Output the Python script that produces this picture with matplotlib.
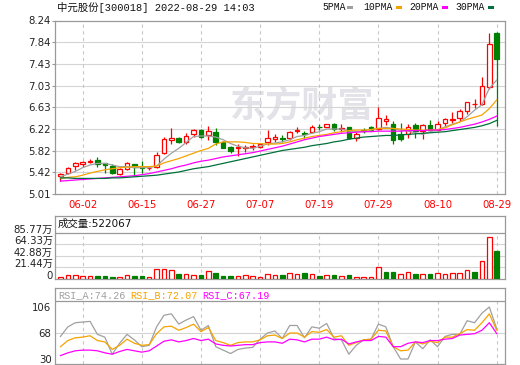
import numpy as np
import matplotlib
matplotlib.use('Agg')
import matplotlib.pyplot as plt
from matplotlib.patches import Rectangle

plt.rcParams['font.family'] = ['DejaVu Sans', 'Noto Sans CJK SC']

# Header info
stock_title = '中元股份[300018] 2022-08-29 14:03'
ma_names = ['5PMA', '10PMA', '20PMA', '30PMA']

# x-axis date labels, one every 8 candles
date_labels = ['06-02', '06-15', '06-27', '07-07', '07-19', '07-29', '08-10', '08-29']
date_label_idx = [3, 11, 19, 27, 35, 43, 51, 59]

# Daily candles
opens = [5.35, 5.41, 5.54, 5.57, 5.61, 5.64, 5.58, 5.54, 5.38, 5.48,
         5.57, 5.51, 5.49, 5.52, 5.77, 6.02, 6.06, 5.98, 6.12, 6.20,
         6.10, 6.17, 5.98, 5.89, 5.86, 5.86, 5.88, 5.88, 5.97, 6.04,
         6.05, 6.05, 6.19, 6.15, 6.16, 6.26, 6.26, 6.31, 6.22, 6.25,
         6.05, 6.20, 6.25, 6.22, 6.37, 6.32, 6.12, 6.12, 6.29, 6.18,
         6.30, 6.21, 6.33, 6.39, 6.42, 6.56, 6.68, 6.68, 7.01, 8.01]
highs = [5.40, 5.52, 5.60, 5.62, 5.66, 5.70, 5.59, 5.57, 5.49, 5.61,
         5.57, 5.62, 5.53, 5.80, 6.08, 6.23, 6.08, 6.15, 6.22, 6.22,
         6.28, 6.23, 5.99, 5.90, 5.95, 5.92, 5.94, 5.96, 6.20, 6.13,
         6.11, 6.19, 6.26, 6.18, 6.30, 6.31, 6.32, 6.33, 6.31, 6.26,
         6.16, 6.23, 6.27, 6.63, 6.48, 6.36, 6.33, 6.32, 6.33, 6.31,
         6.39, 6.36, 6.43, 6.53, 6.59, 6.73, 6.78, 7.18, 8.01, 8.02]
lows = [5.25, 5.38, 5.46, 5.52, 5.58, 5.52, 5.41, 5.39, 5.37, 5.45,
        5.35, 5.40, 5.46, 5.49, 5.76, 5.94, 5.96, 5.94, 6.07, 6.05,
        6.02, 5.92, 5.86, 5.77, 5.71, 5.79, 5.83, 5.86, 5.92, 5.98,
        5.98, 6.02, 6.14, 6.05, 6.14, 6.20, 6.25, 6.18, 6.17, 6.04,
        5.99, 6.15, 6.18, 6.20, 6.30, 5.95, 5.99, 6.05, 6.05, 6.03,
        6.18, 6.20, 6.25, 6.33, 6.36, 6.50, 6.62, 6.66, 6.97, 6.28]
closes = [5.38, 5.49, 5.59, 5.61, 5.62, 5.57, 5.55, 5.40, 5.48, 5.58,
          5.52, 5.49, 5.50, 5.74, 6.03, 6.05, 5.97, 6.09, 6.20, 6.08,
          6.19, 5.98, 5.87, 5.81, 5.88, 5.89, 5.90, 5.94, 6.05, 6.08,
          6.03, 6.16, 6.21, 6.13, 6.26, 6.25, 6.31, 6.22, 6.24, 6.06,
          6.13, 6.18, 6.21, 6.42, 6.41, 6.01, 6.03, 6.25, 6.18, 6.29,
          6.20, 6.31, 6.40, 6.41, 6.56, 6.72, 6.69, 7.02, 7.80, 7.53]

# Moving averages
ma5 = [5.33, 5.38, 5.43, 5.50, 5.55, 5.58, 5.58, 5.55, 5.52, 5.52,
       5.50, 5.50, 5.50, 5.53, 5.66, 5.77, 5.86, 5.97, 6.08, 6.09,
       6.09, 6.07, 6.02, 5.95, 5.90, 5.87, 5.86, 5.90, 5.94, 5.96,
       5.98, 6.02, 6.08, 6.10, 6.14, 6.17, 6.22, 6.22, 6.22, 6.18,
       6.17, 6.17, 6.20, 6.23, 6.25, 6.23, 6.20, 6.18, 6.15, 6.12,
       6.17, 6.20, 6.26, 6.31, 6.35, 6.45, 6.57, 6.67, 6.98, 7.13]
ma10 = [5.30, 5.32, 5.33, 5.36, 5.40, 5.43, 5.46, 5.48, 5.50, 5.51,
        5.52, 5.52, 5.52, 5.53, 5.59, 5.63, 5.67, 5.72, 5.77, 5.82,
        5.86, 5.94, 5.98, 5.98, 5.98, 5.97, 5.95, 5.95, 5.94, 5.94,
        5.95, 5.98, 6.02, 6.05, 6.08, 6.10, 6.12, 6.15, 6.17, 6.19,
        6.20, 6.20, 6.21, 6.23, 6.23, 6.23, 6.22, 6.21, 6.20, 6.20,
        6.20, 6.21, 6.24, 6.30, 6.35, 6.40, 6.44, 6.48, 6.60, 6.76]
ma20 = [5.25, 5.26, 5.27, 5.28, 5.29, 5.30, 5.31, 5.32, 5.33, 5.34,
        5.35, 5.37, 5.39, 5.42, 5.45, 5.48, 5.52, 5.55, 5.59, 5.62,
        5.64, 5.67, 5.70, 5.72, 5.74, 5.76, 5.78, 5.81, 5.84, 5.87,
        5.90, 5.94, 5.98, 6.02, 6.05, 6.08, 6.10, 6.12, 6.14, 6.15,
        6.16, 6.17, 6.17, 6.18, 6.18, 6.18, 6.18, 6.19, 6.19, 6.19,
        6.20, 6.20, 6.21, 6.23, 6.25, 6.28, 6.31, 6.35, 6.40, 6.46]
ma30 = [5.31, 5.31, 5.30, 5.30, 5.30, 5.30, 5.30, 5.31, 5.31, 5.32,
        5.33, 5.34, 5.35, 5.36, 5.38, 5.40, 5.42, 5.45, 5.48, 5.50,
        5.52, 5.55, 5.58, 5.61, 5.64, 5.67, 5.70, 5.73, 5.76, 5.79,
        5.82, 5.84, 5.86, 5.88, 5.91, 5.93, 5.95, 5.98, 6.00, 6.03,
        6.05, 6.07, 6.08, 6.09, 6.10, 6.10, 6.11, 6.12, 6.13, 6.14,
        6.15, 6.16, 6.17, 6.19, 6.21, 6.23, 6.25, 6.28, 6.32, 6.38]

# Volume in units of 10k (万)
volume = [3.7, 6.8, 6.8, 4.9, 4.9, 5.5, 5.5, 3.7, 3.7, 6.8,
          5.5, 5.5, 3.7, 17.9, 17.9, 16.6, 9.2, 8.6, 6.8, 7.4,
          14.8, 11.7, 5.5, 5.5, 4.9, 6.8, 5.5, 4.3, 8.6, 6.8,
          7.4, 10.5, 8.6, 11.1, 8.6, 5.5, 6.8, 7.4, 4.9, 7.4,
          2.8, 2.8, 2.8, 21.6, 12.9, 12.9, 8.6, 12.3, 9.2, 8.6,
          9.2, 10.5, 8.6, 10.5, 10.5, 17.3, 12.9, 32.7, 77.0, 52.2067]
vol_ticks = [0, 21.44, 42.88, 64.33, 85.77]
vol_tick_labels = ['0', '21.44万', '42.88万', '64.33万', '85.77万']

# RSI lines
rsi_a = [63, 77, 83, 84, 85, 66, 62, 37, 53, 66,
         58, 48, 50, 77, 94, 96, 81, 87, 92, 72,
         79, 48, 43, 38, 44, 46, 47, 59, 68, 71,
         60, 79, 79, 61, 77, 75, 82, 60, 58, 37,
         50, 58, 59, 81, 77, 48, 30, 30, 55, 45,
         58, 48, 63, 66, 66, 86, 83, 97, 106, 74.26]
rsi_b = [48, 57, 61, 62, 64, 57, 55, 44, 50, 59,
         53, 50, 51, 67, 77, 78, 72, 76, 81, 70,
         76, 57, 54, 50, 54, 55, 55, 58, 64, 65,
         60, 68, 68, 62, 70, 69, 73, 62, 64, 50,
         54, 58, 59, 72, 71, 48, 42, 43, 55, 52,
         56, 54, 62, 62, 67, 73, 72, 83, 96, 72.07]
rsi_c = [35, 39, 42, 43, 43, 42, 39, 37, 41, 44,
         42, 40, 42, 49, 56, 58, 55, 57, 60, 57,
         59, 52, 50, 49, 50, 51, 51, 54, 55, 55,
         53, 59, 58, 55, 59, 59, 62, 58, 59, 52,
         55, 57, 57, 63, 62, 48, 48, 53, 55, 54,
         57, 57, 59, 60, 65, 66, 67, 72, 83, 67.19]
price_tick_labels = ['5.01', '5.42', '5.82', '6.22', '6.63', '7.03', '7.43', '7.84', '8.24']
rsi_ticks = [30, 68, 106]

# Colours
RED = '#ff0000'
GREEN = '#008000'
FRAME = '#999999'
GRID = '#d4d4d4'
ma_colors = ['#a0a0a0', '#f5a300', '#ff00ff', '#00703c']
rsi_colors = ['#a0a0a0', '#f5a300', '#ff00ff']

W, H = 520, 365
fig = plt.figure(figsize=(W / 100, H / 100), dpi=100)


def add_px_axes(x0, y0, x1, y1):
    # axes placed by pixel box (top-left origin)
    return fig.add_axes([x0 / W, 1 - y1 / H, (x1 - x0) / W, (y1 - y0) / H])


def style_frame(ax):
    for sp in ax.spines.values():
        sp.set_color(FRAME)
        sp.set_linewidth(0.9)
    ax.set_xlim(-0.74, 60.12)
    ax.set_xticks([])


def dashed_vlines(ax, ymin, ymax):
    ax.vlines(date_label_idx, ymin, ymax, colors='#c8c8c8', linestyles=(0, (3, 3)), lw=0.8, zorder=1)


x = np.arange(len(closes))
o = np.array(opens)
c = np.array(closes)
candle_up = c >= o

# ---------------- Price panel ----------------
ax = add_px_axes(55, 20.5, 505, 194)
style_frame(ax)
price_ticks = np.linspace(5.01, 8.24, 9)
ax.set_ylim(5.01, 8.24)
ax.set_yticks(price_ticks)
ax.set_yticklabels(price_tick_labels, fontsize=7.3, color='#222222')
ax.tick_params(axis='y', length=2.2, width=0.8, color=FRAME, pad=0.8)
for yv in price_ticks[1:-1]:
    ax.axhline(yv, color=GRID, lw=0.8, zorder=1)
dashed_vlines(ax, 5.01, 8.24)

# watermark
ax.text(0.55, 0.505, '东方财富', transform=ax.transAxes, fontsize=26, fontweight='bold',
        color='#e2e2e8', ha='center', va='center', family=['Noto Sans CJK SC'], zorder=0)

cols = [RED if u else GREEN for u in candle_up]
ax.vlines(x, lows, highs, colors=cols, lw=0.9, zorder=3)
body_bottom = np.minimum(o, c)
body_height = np.maximum(np.abs(c - o), 0.004)
ax.bar(x, body_height, bottom=body_bottom, width=0.62,
       facecolor=['white' if u else GREEN for u in candle_up],
       edgecolor=cols, lw=0.9, zorder=4)

for ma, col in zip([ma5, ma10, ma20, ma30], ma_colors):
    ax.plot(x, ma, color=col, lw=0.9, zorder=5)

# x labels under price panel
for idx, lab in zip(date_label_idx, date_labels):
    ax.text(idx, -0.065, lab, transform=ax.get_xaxis_transform(), color=RED,
            fontsize=7.3, ha='center', va='center')

# title + MA legend
fig.text(57 / W, 1 - 7.5 / H, stock_title, fontsize=7.5, va='center', ha='left',
         family=['Liberation Mono', 'Noto Sans CJK SC'], color='#111111')
legend_x = [322, 363, 409, 455]
square_x = [347.3, 395.7, 442, 487.7]
for name, lx, sx, col in zip(ma_names, legend_x, square_x, ma_colors):
    fig.text(lx / W, 1 - 7.5 / H, name, fontsize=7.0, va='center', ha='left',
             family=['Liberation Mono'], color='#111111')
    fig.add_artist(Rectangle((sx / W, 1 - 9 / H), 6 / W, 3 / H, transform=fig.transFigure,
                             facecolor=col, edgecolor='none'))

# ---------------- Volume panel ----------------
vax = add_px_axes(55, 216, 505, 279)
style_frame(vax)
vol_top = vol_ticks[-1]
vax.set_ylim(0, vol_top * 63 / 46.4)
vax.axhline(vol_top, color=FRAME, lw=0.9, zorder=2)
for yv in vol_ticks[1:-1]:
    vax.axhline(yv, color=GRID, lw=0.8, zorder=1)
dashed_vlines(vax, 0, vol_top)
vax.set_yticks(vol_ticks)
vax.set_yticklabels(vol_tick_labels, fontsize=7.3, color='#222222')
for lab in vax.get_yticklabels():
    lab.set_verticalalignment('baseline')
vax.tick_params(axis='y', length=0, pad=1.5)

# volume colour follows the change vs previous close
prev_close = np.concatenate([[c[0] - 0.01], c[:-1]])
vol_up = c >= prev_close
vcols = [RED if u else GREEN for u in vol_up]
vax.bar(x, volume, width=0.62, facecolor=['white' if u else GREEN for u in vol_up],
        edgecolor=vcols, lw=0.9, zorder=3)
vax.text(58 / W, 1 - 224 / H, '成交量:522067', transform=fig.transFigure, fontsize=7.5,
         va='center', ha='left', color='#111111')

# ---------------- RSI panel ----------------
rax = add_px_axes(55, 288, 505, 364)
style_frame(rax)
rsi_lo, rsi_hi, rsi_frame_top = 22.7, 114.8, 133.8
rax.set_ylim(rsi_lo, rsi_frame_top)
rax.axhline(rsi_hi, color=FRAME, lw=0.9, zorder=2)
rax.axhline(68, color=GRID, lw=0.8, zorder=1)
dashed_vlines(rax, rsi_lo, rsi_hi)
rax.set_yticks(rsi_ticks)
rax.set_yticklabels([str(v) for v in rsi_ticks], fontsize=7.3, color='#222222')
rax.tick_params(axis='y', length=0, pad=2.5)
for vals, col in zip([rsi_a, rsi_b, rsi_c], rsi_colors):
    rax.plot(x, vals, color=col, lw=0.9, zorder=3)

rsi_names = ['RSI_A', 'RSI_B', 'RSI_C']
rsi_label_x = [58, 130, 202]
for name, vals, lx, col in zip(rsi_names, [rsi_a, rsi_b, rsi_c], rsi_label_x, rsi_colors):
    fig.text(lx / W, 1 - 295 / H, f'{name}:{vals[-1]:.2f}', fontsize=7.3, va='center',
             ha='left', family=['Liberation Mono'], color=col)

fig.savefig('out.png', dpi=100)
